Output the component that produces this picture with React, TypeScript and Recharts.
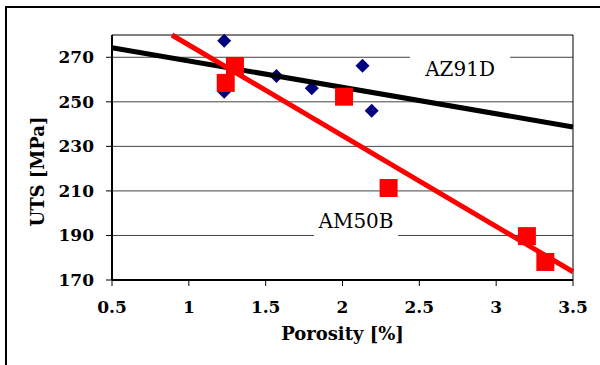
import { ScatterChart, Scatter, XAxis, YAxis, CartesianGrid, ReferenceLine, ReferenceDot, Label } from "recharts";

const xTicks = [0.5, 1, 1.5, 2, 2.5, 3, 3.5];
const yTicks = [170, 190, 210, 230, 250, 270];

// measured points
const az91dPorosity = [1.23, 1.23, 1.57, 1.8, 2.13, 2.19];
const az91dUts = [277.4, 254.5, 261.6, 256.1, 266.2, 246];
const am50bPorosity = [1.3, 1.24, 2.01, 2.3, 3.2, 3.32];
const am50bUts = [266.1, 258.5, 252.3, 211.3, 189.7, 178.1];

// linear trend lines (end points)
const az91dFitX = [0.5, 3.5];
const az91dFitY = [274.3, 238.7];
const am50bFitX = [0.89, 3.5];
const am50bFitY = [280, 173.7];

// where the series names sit
const az91dLabel = { x: 2.765, y: 264.7 };
const am50bLabel = { x: 2.088, y: 196.5 };

const zip = (xs: number[], ys: number[]) => xs.map((x, i) => ({ x, y: ys[i] }));

const serif = "DejaVu Serif";
const tickStyle = { fill: "#000", fontSize: 17, fontWeight: "bold" as const, fontFamily: serif };

const Diamond = (p: any) => (
  <polygon
    points={`${p.cx},${p.cy - 7} ${p.cx + 7},${p.cy} ${p.cx},${p.cy + 7} ${p.cx - 7},${p.cy}`}
    fill="#000080"
  />
);

const Square = (p: any) => <rect x={p.cx - 9} y={p.cy - 9} width={18} height={18} fill="#FF0000" />;

const NameBox = (text: string, w: number) => (p: any) => (
  <g>
    <rect x={p.cx - w / 2} y={p.cy - 19} width={w} height={38} fill="#fff" />
    <text x={p.cx} y={p.cy} textAnchor="middle" dominantBaseline="central" fontFamily={serif} fontSize={20} fill="#000">
      {text}
    </text>
  </g>
);

export default function App() {
  return (
    <div style={{ position: "absolute", left: 0, top: 0, width: 600, height: 365, background: "#fff", overflow: "hidden" }}>
      <div
        style={{
          position: "absolute",
          left: 5,
          top: 6,
          width: 620,
          height: 380,
          borderTop: "2px solid #000",
          borderLeft: "2px solid #000",
        }}
      />
      <ScatterChart width={600} height={365} margin={{ top: 35, right: 27, left: 12, bottom: 15 }}>
        <CartesianGrid vertical={false} stroke="#444" strokeWidth={1} />
        <XAxis
          type="number"
          dataKey="x"
          domain={[0.5, 3.5]}
          ticks={xTicks}
          height={70}
          axisLine={{ stroke: "#000", strokeWidth: 2 }}
          tickLine={{ stroke: "#000" }}
          tickSize={6}
          tickMargin={15}
          tick={tickStyle}
        >
          <Label
            value="Porosity [%]"
            position="insideBottom"
            offset={10}
            style={{ fill: "#000", fontSize: 18, fontWeight: "bold", fontFamily: serif }}
          />
        </XAxis>
        <YAxis
          type="number"
          dataKey="y"
          domain={[170, 280]}
          ticks={yTicks}
          width={100}
          axisLine={{ stroke: "#000", strokeWidth: 2 }}
          tickLine={{ stroke: "#000" }}
          tickSize={6}
          tickMargin={12}
          tick={tickStyle}
        >
          <Label
            content={({ viewBox }: any) => {
              const x = viewBox.x + 25;
              const y = viewBox.y + viewBox.height / 2 + 14;
              return (
                <text
                  x={x}
                  y={y}
                  transform={`rotate(-90 ${x} ${y})`}
                  textAnchor="middle"
                  dominantBaseline="central"
                  fontFamily={serif}
                  fontSize={18}
                  fontWeight="bold"
                  fill="#000"
                >
                  UTS [MPa]
                </text>
              );
            }}
          />
        </YAxis>
        <ReferenceLine y={280} stroke="#808080" strokeWidth={2} />
        <ReferenceLine x={3.5} stroke="#000" strokeWidth={1} />
        <ReferenceDot x={az91dLabel.x} y={az91dLabel.y} shape={NameBox("AZ91D", 100)} />
        <ReferenceDot x={am50bLabel.x} y={am50bLabel.y} shape={NameBox("AM50B", 84)} />
        <Scatter data={zip(az91dPorosity, az91dUts)} shape={Diamond} isAnimationActive={false} />
        <Scatter
          data={zip(az91dFitX, az91dFitY)}
          line={{ stroke: "#000", strokeWidth: 5 }}
          shape={() => <g />}
          isAnimationActive={false}
        />
        <Scatter data={zip(am50bPorosity, am50bUts)} shape={Square} isAnimationActive={false} />
        <Scatter
          data={zip(am50bFitX, am50bFitY)}
          line={{ stroke: "#FF0000", strokeWidth: 5 }}
          shape={() => <g />}
          isAnimationActive={false}
        />
      </ScatterChart>
    </div>
  );
}
